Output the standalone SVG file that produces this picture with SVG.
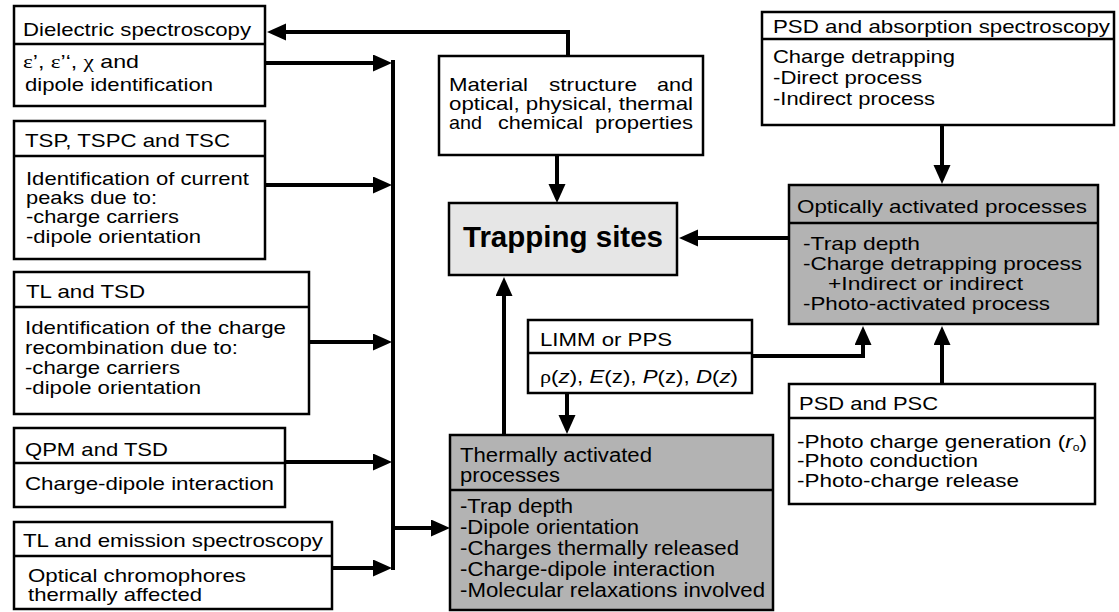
<svg xmlns="http://www.w3.org/2000/svg" width="1119" height="612" viewBox="0 0 1119 612">
<style>
.box{fill:#fff;stroke:#000;stroke-width:2.5}
.grey{fill:#b3b3b3;stroke:#000;stroke-width:2.5}
.light{fill:#e6e6e6;stroke:#000;stroke-width:2.5}
.div{stroke:#000;stroke-width:2.5}
text{font-family:"Liberation Sans",Arial,sans-serif;font-size:18.5px;fill:#000}
.big{font-size:19.5px}
.sym{font-family:"Liberation Serif","Times New Roman",serif}
.conn{fill:none;stroke:#000;stroke-width:4}
</style>
<defs>
<marker id="ah" markerUnits="userSpaceOnUse" markerWidth="20" markerHeight="18" refX="6" refY="8.5" orient="auto">
<path d="M0,0 L19,8.5 L0,17 Z" fill="#000"/>
</marker>
</defs>

<g id="connectors">
<path class="conn" d="M568,56 V32 H280" marker-end="url(#ah)"/>
<path class="conn" d="M265,63 H379" marker-end="url(#ah)"/>
<path class="conn" d="M265,185 H379" marker-end="url(#ah)"/>
<path class="conn" d="M309,342 H379" marker-end="url(#ah)"/>
<path class="conn" d="M285,462 H379" marker-end="url(#ah)"/>
<path class="conn" d="M332,568 H379" marker-end="url(#ah)"/>
<path class="conn" d="M393,60 V570"/>
<path class="conn" d="M393,528 H437" marker-end="url(#ah)"/>
<path class="conn" d="M557,155 V190" marker-end="url(#ah)"/>
<path class="conn" d="M789,238 H692" marker-end="url(#ah)"/>
<path class="conn" d="M504,435 V290" marker-end="url(#ah)"/>
<path class="conn" d="M567,393 V421" marker-end="url(#ah)"/>
<path class="conn" d="M752,356 H863 V339" marker-end="url(#ah)"/>
<path class="conn" d="M942,125 V171" marker-end="url(#ah)"/>
<path class="conn" d="M942,384 V339" marker-end="url(#ah)"/>
</g>

<g id="dielectric">
<rect class="box" x="14" y="6" width="251" height="100"/>
<line class="div" x1="14" y1="44" x2="265" y2="44"/>
<text x="23" y="36" textLength="228" lengthAdjust="spacingAndGlyphs">Dielectric spectroscopy</text>
<text x="23" y="68" textLength="116" lengthAdjust="spacingAndGlyphs"><tspan class="sym">ε</tspan>’, <tspan class="sym">ε</tspan>’‘, <tspan class="sym">χ</tspan> and</text>
<text x="25" y="91" textLength="188" lengthAdjust="spacingAndGlyphs">dipole identification</text>
</g>

<g id="tsp">
<rect class="box" x="14" y="121" width="251" height="138"/>
<line class="div" x1="14" y1="156" x2="265" y2="156"/>
<text x="25" y="147" textLength="205" lengthAdjust="spacingAndGlyphs">TSP, TSPC and TSC</text>
<text x="26" y="185" textLength="223" lengthAdjust="spacingAndGlyphs">Identification of current</text>
<text x="26" y="204" textLength="131" lengthAdjust="spacingAndGlyphs">peaks due to:</text>
<text x="26" y="223" textLength="153" lengthAdjust="spacingAndGlyphs">-charge carriers</text>
<text x="26" y="243" textLength="175" lengthAdjust="spacingAndGlyphs">-dipole orientation</text>
</g>

<g id="tl-tsd">
<rect class="box" x="14" y="272" width="295" height="142"/>
<line class="div" x1="14" y1="307" x2="309" y2="307"/>
<text x="26" y="298" textLength="119" lengthAdjust="spacingAndGlyphs">TL and TSD</text>
<text x="25" y="334" textLength="261" lengthAdjust="spacingAndGlyphs">Identification of the charge</text>
<text x="25" y="354" textLength="213" lengthAdjust="spacingAndGlyphs">recombination due to:</text>
<text x="25" y="374" textLength="155" lengthAdjust="spacingAndGlyphs">-charge carriers</text>
<text x="25" y="394" textLength="176" lengthAdjust="spacingAndGlyphs">-dipole orientation</text>
</g>

<g id="qpm">
<rect class="box" x="14" y="428" width="271" height="79"/>
<line class="div" x1="14" y1="463" x2="285" y2="463"/>
<text x="25" y="456" textLength="143" lengthAdjust="spacingAndGlyphs">QPM and TSD</text>
<text x="25" y="490" textLength="249" lengthAdjust="spacingAndGlyphs">Charge-dipole interaction</text>
</g>

<g id="tl-emission">
<rect class="box" x="14" y="522" width="318" height="87"/>
<line class="div" x1="14" y1="556" x2="332" y2="556"/>
<text x="23" y="547" textLength="300" lengthAdjust="spacingAndGlyphs">TL and emission spectroscopy</text>
<text x="28" y="582" textLength="218" lengthAdjust="spacingAndGlyphs">Optical chromophores</text>
<text x="28" y="601" textLength="174" lengthAdjust="spacingAndGlyphs">thermally affected</text>
</g>

<g id="material">
<rect class="box" x="439" y="56" width="264" height="99"/>
<text x="449" y="91" textLength="79" lengthAdjust="spacingAndGlyphs">Material</text>
<text x="549" y="91" textLength="88" lengthAdjust="spacingAndGlyphs">structure</text>
<text x="657" y="91" textLength="36" lengthAdjust="spacingAndGlyphs">and</text>
<text x="449" y="110" textLength="244" lengthAdjust="spacingAndGlyphs">optical, physical, thermal</text>
<text x="449" y="129" textLength="33" lengthAdjust="spacingAndGlyphs">and</text>
<text x="498" y="129" textLength="85" lengthAdjust="spacingAndGlyphs">chemical</text>
<text x="595" y="129" textLength="98" lengthAdjust="spacingAndGlyphs">properties</text>
</g>

<g id="trapping">
<rect class="light" x="449" y="203" width="228" height="72"/>
<text x="463" y="247" style="font-size:29px;font-weight:bold" textLength="200" lengthAdjust="spacingAndGlyphs">Trapping sites</text>
</g>

<g id="limm">
<rect class="box" x="528" y="320" width="224" height="73"/>
<line class="div" x1="528" y1="353" x2="752" y2="353"/>
<text x="540" y="346" textLength="132" lengthAdjust="spacingAndGlyphs">LIMM or PPS</text>
<text x="540" y="383" textLength="198" lengthAdjust="spacingAndGlyphs"><tspan class="sym">ρ</tspan>(<tspan font-style="italic">z</tspan>), <tspan font-style="italic">E</tspan>(z), <tspan font-style="italic">P</tspan>(z), <tspan font-style="italic">D</tspan>(<tspan font-style="italic">z</tspan>)</text>
</g>

<g id="thermally">
<rect class="grey" x="450" y="435" width="323" height="175"/>
<line class="div" x1="450" y1="490" x2="773" y2="490"/>
<text class="big" x="460" y="462" textLength="192" lengthAdjust="spacingAndGlyphs">Thermally activated</text>
<text class="big" x="460" y="482" textLength="100" lengthAdjust="spacingAndGlyphs">processes</text>
<text class="big" x="460" y="513" textLength="113" lengthAdjust="spacingAndGlyphs">-Trap depth</text>
<text class="big" x="460" y="534" textLength="179" lengthAdjust="spacingAndGlyphs">-Dipole orientation</text>
<text class="big" x="460" y="555" textLength="279" lengthAdjust="spacingAndGlyphs">-Charges thermally released</text>
<text class="big" x="460" y="576" textLength="255" lengthAdjust="spacingAndGlyphs">-Charge-dipole interaction</text>
<text class="big" x="460" y="597" textLength="305" lengthAdjust="spacingAndGlyphs">-Molecular relaxations involved</text>
</g>

<g id="psd-absorption">
<rect class="box" x="762" y="12" width="352" height="113"/>
<line class="div" x1="762" y1="39" x2="1114" y2="39"/>
<text x="773" y="33" textLength="337" lengthAdjust="spacingAndGlyphs">PSD and absorption spectroscopy</text>
<text x="773" y="63" textLength="182" lengthAdjust="spacingAndGlyphs">Charge detrapping</text>
<text x="773" y="84" textLength="149" lengthAdjust="spacingAndGlyphs">-Direct process</text>
<text x="773" y="105" textLength="162" lengthAdjust="spacingAndGlyphs">-Indirect process</text>
</g>

<g id="optically">
<rect class="grey" x="789" y="185" width="309" height="139"/>
<line class="div" x1="789" y1="223" x2="1098" y2="223"/>
<text x="797" y="213" textLength="290" lengthAdjust="spacingAndGlyphs">Optically activated processes</text>
<text x="803" y="250" textLength="117" lengthAdjust="spacingAndGlyphs">-Trap depth</text>
<text x="803" y="270" textLength="279" lengthAdjust="spacingAndGlyphs">-Charge detrapping process</text>
<text x="828" y="290" textLength="195" lengthAdjust="spacingAndGlyphs">+Indirect or indirect</text>
<text x="803" y="310" textLength="247" lengthAdjust="spacingAndGlyphs">-Photo-activated process</text>
</g>

<g id="psd-psc">
<rect class="box" x="789" y="384" width="306" height="120"/>
<line class="div" x1="789" y1="418" x2="1095" y2="418"/>
<text x="799" y="410" textLength="139" lengthAdjust="spacingAndGlyphs">PSD and PSC</text>
<text x="797" y="448" textLength="290" lengthAdjust="spacingAndGlyphs">-Photo charge generation (<tspan font-style="italic">r</tspan><tspan font-size="10px" dy="3">o</tspan><tspan dy="-3">)</tspan></text>
<text x="797" y="467" textLength="181" lengthAdjust="spacingAndGlyphs">-Photo conduction</text>
<text x="797" y="487" textLength="222" lengthAdjust="spacingAndGlyphs">-Photo-charge release</text>
</g>
</svg>
